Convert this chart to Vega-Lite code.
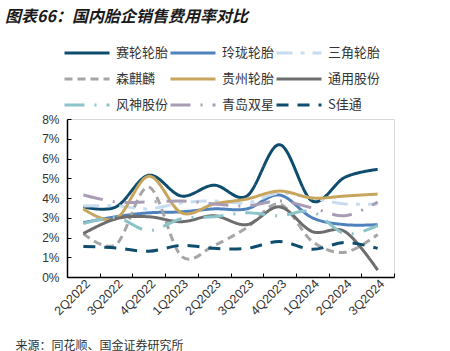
{
  "$schema": "https://vega.github.io/schema/vega-lite/v6.json",
  "width": 327,
  "height": 158,
  "autosize": {"type": "none"},
  "padding": {"left": 67, "top": 119, "right": 56, "bottom": 74},
  "background": "white",
  "title": {
    "text": "图表66：国内胎企销售费用率对比",
    "anchor": "start",
    "frame": "group",
    "dx": -62,
    "font": "Noto Sans CJK SC",
    "fontSize": 16,
    "fontStyle": "italic",
    "fontWeight": "bold",
    "color": "#1a1a1a",
    "offset": 20
  },
  "config": {
    "view": {"stroke": "#d9d9d9", "strokeWidth": 1},
    "axis": {"grid": false}
  },
  "datasets": {
    "rows": [
      {"q": "2Q2022", "s": "赛轮轮胎", "v": 3.55}, {"q": "3Q2022", "s": "赛轮轮胎", "v": 3.55}, {"q": "4Q2022", "s": "赛轮轮胎", "v": 5.15}, {"q": "1Q2023", "s": "赛轮轮胎", "v": 4.1}, {"q": "2Q2023", "s": "赛轮轮胎", "v": 4.65}, {"q": "3Q2023", "s": "赛轮轮胎", "v": 4.1}, {"q": "4Q2023", "s": "赛轮轮胎", "v": 6.7}, {"q": "1Q2024", "s": "赛轮轮胎", "v": 3.85}, {"q": "2Q2024", "s": "赛轮轮胎", "v": 5.05}, {"q": "3Q2024", "s": "赛轮轮胎", "v": 5.45},
      {"q": "2Q2022", "s": "玲珑轮胎", "v": 2.75}, {"q": "3Q2022", "s": "玲珑轮胎", "v": 3.05}, {"q": "4Q2022", "s": "玲珑轮胎", "v": 3.25}, {"q": "1Q2023", "s": "玲珑轮胎", "v": 3.3}, {"q": "2Q2023", "s": "玲珑轮胎", "v": 3.45}, {"q": "3Q2023", "s": "玲珑轮胎", "v": 3.45}, {"q": "4Q2023", "s": "玲珑轮胎", "v": 4.15}, {"q": "1Q2024", "s": "玲珑轮胎", "v": 3.0}, {"q": "2Q2024", "s": "玲珑轮胎", "v": 2.65}, {"q": "3Q2024", "s": "玲珑轮胎", "v": 2.65},
      {"q": "2Q2022", "s": "三角轮胎", "v": 3.6}, {"q": "3Q2022", "s": "三角轮胎", "v": 3.6}, {"q": "4Q2022", "s": "三角轮胎", "v": 3.45}, {"q": "1Q2023", "s": "三角轮胎", "v": 3.75}, {"q": "2Q2023", "s": "三角轮胎", "v": 3.85}, {"q": "3Q2023", "s": "三角轮胎", "v": 3.75}, {"q": "4Q2023", "s": "三角轮胎", "v": 4.25}, {"q": "1Q2024", "s": "三角轮胎", "v": 4.0}, {"q": "2Q2024", "s": "三角轮胎", "v": 3.7}, {"q": "3Q2024", "s": "三角轮胎", "v": 3.7},
      {"q": "2Q2022", "s": "森麒麟", "v": 2.2}, {"q": "3Q2022", "s": "森麒麟", "v": 1.65}, {"q": "4Q2022", "s": "森麒麟", "v": 4.55}, {"q": "1Q2023", "s": "森麒麟", "v": 1.05}, {"q": "2Q2023", "s": "森麒麟", "v": 1.6}, {"q": "3Q2023", "s": "森麒麟", "v": 2.5}, {"q": "4Q2023", "s": "森麒麟", "v": 3.7}, {"q": "1Q2024", "s": "森麒麟", "v": 1.8}, {"q": "2Q2024", "s": "森麒麟", "v": 1.25}, {"q": "3Q2024", "s": "森麒麟", "v": 2.15},
      {"q": "2Q2022", "s": "贵州轮胎", "v": 3.45}, {"q": "3Q2022", "s": "贵州轮胎", "v": 2.95}, {"q": "4Q2022", "s": "贵州轮胎", "v": 5.1}, {"q": "1Q2023", "s": "贵州轮胎", "v": 3.25}, {"q": "2Q2023", "s": "贵州轮胎", "v": 3.7}, {"q": "3Q2023", "s": "贵州轮胎", "v": 3.95}, {"q": "4Q2023", "s": "贵州轮胎", "v": 4.35}, {"q": "1Q2024", "s": "贵州轮胎", "v": 4.0}, {"q": "2Q2024", "s": "贵州轮胎", "v": 4.1}, {"q": "3Q2024", "s": "贵州轮胎", "v": 4.2},
      {"q": "2Q2022", "s": "通用股份", "v": 2.2}, {"q": "3Q2022", "s": "通用股份", "v": 2.95}, {"q": "4Q2022", "s": "通用股份", "v": 3.05}, {"q": "1Q2023", "s": "通用股份", "v": 2.8}, {"q": "2Q2023", "s": "通用股份", "v": 3.1}, {"q": "3Q2023", "s": "通用股份", "v": 2.65}, {"q": "4Q2023", "s": "通用股份", "v": 3.55}, {"q": "1Q2024", "s": "通用股份", "v": 2.3}, {"q": "2Q2024", "s": "通用股份", "v": 2.3}, {"q": "3Q2024", "s": "通用股份", "v": 0.35},
      {"q": "2Q2022", "s": "风神股份", "v": 2.7}, {"q": "3Q2022", "s": "风神股份", "v": 3.0}, {"q": "4Q2022", "s": "风神股份", "v": 2.35}, {"q": "1Q2023", "s": "风神股份", "v": 2.95}, {"q": "2Q2023", "s": "风神股份", "v": 3.05}, {"q": "3Q2023", "s": "风神股份", "v": 3.25}, {"q": "4Q2023", "s": "风神股份", "v": 3.1}, {"q": "1Q2024", "s": "风神股份", "v": 3.3}, {"q": "2Q2024", "s": "风神股份", "v": 2.2}, {"q": "3Q2024", "s": "风神股份", "v": 2.6},
      {"q": "2Q2022", "s": "青岛双星", "v": 4.15}, {"q": "3Q2022", "s": "青岛双星", "v": 3.8}, {"q": "4Q2022", "s": "青岛双星", "v": 3.8}, {"q": "1Q2023", "s": "青岛双星", "v": 3.85}, {"q": "2Q2023", "s": "青岛双星", "v": 3.7}, {"q": "3Q2023", "s": "青岛双星", "v": 3.6}, {"q": "4Q2023", "s": "青岛双星", "v": 3.85}, {"q": "1Q2024", "s": "青岛双星", "v": 3.5}, {"q": "2Q2024", "s": "青岛双星", "v": 3.1}, {"q": "3Q2024", "s": "青岛双星", "v": 3.8},
      {"q": "2Q2022", "s": "S佳通", "v": 1.55}, {"q": "3Q2022", "s": "S佳通", "v": 1.47}, {"q": "4Q2022", "s": "S佳通", "v": 1.3}, {"q": "1Q2023", "s": "S佳通", "v": 1.6}, {"q": "2Q2023", "s": "S佳通", "v": 1.45}, {"q": "3Q2023", "s": "S佳通", "v": 1.45}, {"q": "4Q2023", "s": "S佳通", "v": 1.8}, {"q": "1Q2024", "s": "S佳通", "v": 1.4}, {"q": "2Q2024", "s": "S佳通", "v": 1.75}, {"q": "3Q2024", "s": "S佳通", "v": 1.45}
    ]
  },
  "data": {"name": "rows"},
  "mark": {"type": "line", "interpolate": "cardinal", "tension": 0, "strokeWidth": 3},
  "encoding": {
    "x": {
      "field": "q",
      "type": "ordinal",
      "sort": ["2Q2022","3Q2022","4Q2022","1Q2023","2Q2023","3Q2023","4Q2023","1Q2024","2Q2024","3Q2024"],
      "scale": {"type": "band", "paddingInner": 0, "paddingOuter": 0},
      "bandPosition": 0.5,
      "axis": {
        "title": "来源：同花顺、国金证券研究所",
        "titleX": -52,
        "titleY": 68,
        "titleAlign": "left",
        "titleBaseline": "middle",
        "titleAnchor": null,
        "titleFont": "Noto Sans CJK SC",
        "titleFontSize": 12,
        "titleFontWeight": "normal",
        "titleColor": "#333333",
        "tickBand": "extent",
        "labelAngle": -45,
        "labelFont": "Liberation Sans",
        "labelFontSize": 12.5,
        "labelColor": "#333333",
        "labelPadding": 4,
        "domainColor": "#000000",
        "domainWidth": 1.5,
        "tickColor": "#000000",
        "tickSize": -4,
        "tickWidth": 1
      }
    },
    "y": {
      "field": "v",
      "type": "quantitative",
      "scale": {"domain": [0, 8], "nice": false},
      "axis": {
        "title": null,
        "values": [0,1,2,3,4,5,6,7,8],
        "labelExpr": "datum.value + '%'",
        "labelFont": "Liberation Sans",
        "labelFontSize": 12,
        "labelColor": "#333333",
        "labelPadding": 12,
        "domainColor": "#000000",
        "domainWidth": 1.5,
        "tickColor": "#000000",
        "tickSize": -4,
        "tickWidth": 1
      }
    },
    "color": {
      "field": "s",
      "type": "nominal",
      "sort": ["赛轮轮胎","玲珑轮胎","三角轮胎","森麒麟","贵州轮胎","通用股份","风神股份","青岛双星","S佳通"],
      "scale": {
        "domain": ["赛轮轮胎","玲珑轮胎","三角轮胎","森麒麟","贵州轮胎","通用股份","风神股份","青岛双星","S佳通"],
        "range": ["#0e4d6e","#4f81bd","#c8dcef","#a6a6a6","#c8a55c","#6d6d6d","#8cc4c9","#a99db6","#0e4d6e"]
      },
      "legend": {
        "title": null,
        "orient": "none",
        "legendX": -4,
        "legendY": -74,
        "direction": "horizontal",
        "columns": 3,
        "symbolType": "stroke",
        "symbolSize": 2025,
        "symbolStrokeWidth": 3,
        "clipHeight": 16,
        "labelFont": "Noto Sans CJK SC",
        "labelFontSize": 13,
        "labelColor": "#333333",
        "labelOffset": 5,
        "columnPadding": -8,
        "rowPadding": 10
      }
    },
    "strokeDash": {
      "field": "s",
      "type": "nominal",
      "sort": ["赛轮轮胎","玲珑轮胎","三角轮胎","森麒麟","贵州轮胎","通用股份","风神股份","青岛双星","S佳通"],
      "scale": {
        "domain": ["赛轮轮胎","玲珑轮胎","三角轮胎","森麒麟","贵州轮胎","通用股份","风神股份","青岛双星","S佳通"],
        "range": [[1,0],[1,0],[16,8,4,8],[8,5],[1,0],[1,0],[20,10,2,10],[20,10,2,10],[12,9]]
      },
      "legend": null
    }
  }
}
